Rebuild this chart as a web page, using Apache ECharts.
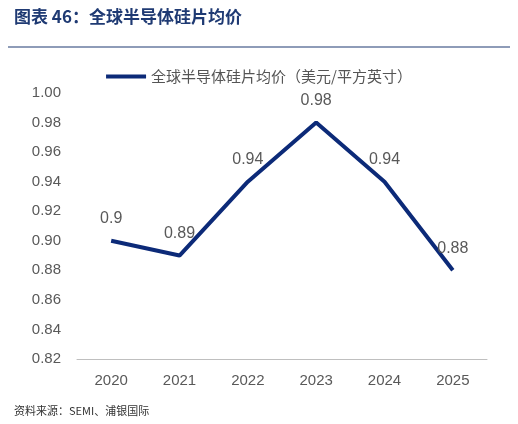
<!DOCTYPE html>
<html><head><meta charset="utf-8">
<script src="https://cdn.jsdelivr.net/npm/echarts@6/dist/echarts.min.js"></script>
<style>body{margin:0;background:#fff}#c{width:518px;height:424px}</style>
</head><body><div id="c"></div>
<script>
const categories=['2020','2021','2022','2023','2024','2025'];
const prices=[0.90,0.89,0.94,0.98,0.94,0.88];
const labels=['0.9','0.89','0.94','0.98','0.94','0.88'];
const seriesName='全球半导体硅片均价（美元/平方英寸）';
const chart=echarts.init(document.getElementById('c'));
chart.setOption({
  animation:false,
  graphic:[
    {type:'text',left:14,top:8,style:{text:'图表 46：全球半导体硅片均价',fill:'#1f3a73',font:'bold 17px "Noto Sans CJK SC"'}},
    {type:'line',shape:{x1:8,y1:47,x2:510,y2:47},style:{stroke:'#1f3a73',lineWidth:1.2}},
    {type:'text',left:14,top:405,style:{text:'资料来源：SEMI、浦银国际',fill:'#333',font:'11px "Noto Sans CJK SC"'}}
  ],
  legend:{top:64,left:'center',itemWidth:40,itemHeight:4,textStyle:{fontSize:15,color:'#555',fontFamily:'Noto Sans CJK SC'},data:[{name:seriesName,icon:'rect'}]},
  grid:{left:77,right:31,top:93,bottom:65},
  xAxis:{type:'category',data:categories,boundaryGap:true,
    axisLine:{lineStyle:{color:'#bfbfbf'}},axisTick:{show:false},
    axisLabel:{fontSize:15,color:'#595959',margin:14}},
  yAxis:{type:'value',min:0.82,max:1.00,interval:0.02,
    axisLine:{show:false},axisTick:{show:false},splitLine:{show:false},
    axisLabel:{fontSize:15,color:'#595959',margin:16,formatter:v=>v.toFixed(2)}},
  series:[{name:seriesName,type:'line',data:prices,symbol:'circle',symbolSize:0,showSymbol:true,
    lineStyle:{color:'#0c2a78',width:4},itemStyle:{color:'#0c2a78'},
    label:{show:true,position:'top',distance:14,fontSize:16,color:'#595959',
      formatter:p=>labels[p.dataIndex]}}]
});
</script></body></html>
